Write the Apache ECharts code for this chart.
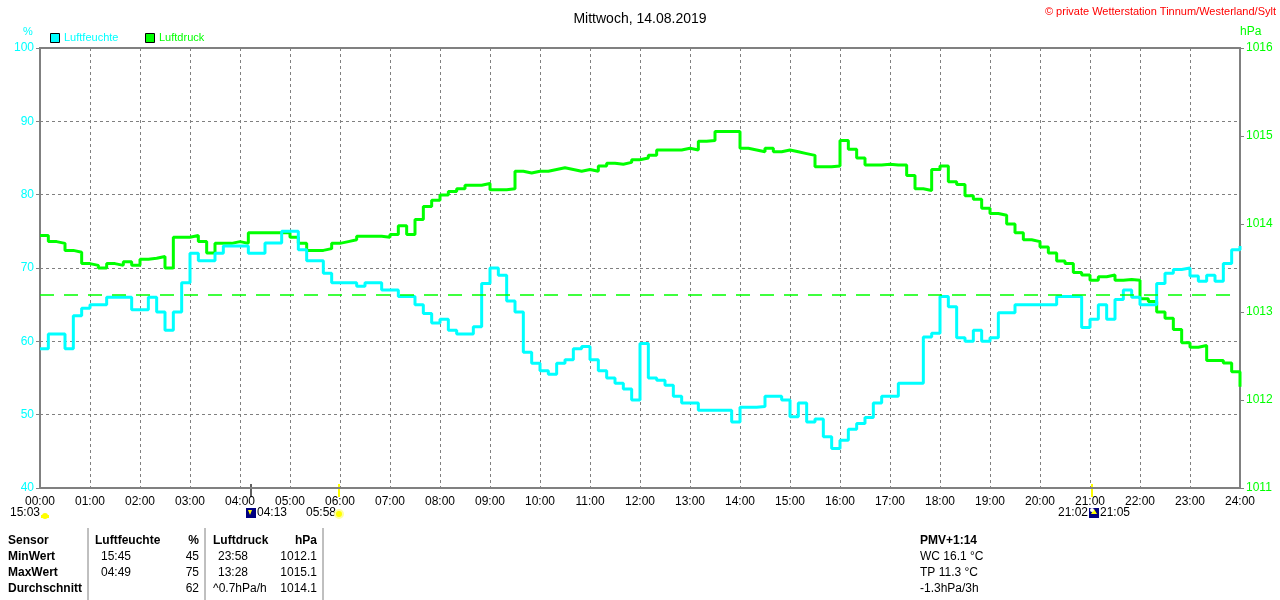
<!DOCTYPE html>
<html>
<head>
<meta charset="utf-8">
<script src="https://cdn.jsdelivr.net/npm/echarts@6/dist/echarts.min.js"></script>
<style>
  html, body { margin: 0; padding: 0; background: #fff; }
  #chart { width: 1280px; height: 600px; }
</style>
</head>
<body>
<div id="chart"></div>
<script>
// Mittwoch, 14.08.2019 - Luftfeuchte / Luftdruck, Werte alle 10 Minuten
var stepMinutes = 10;
var humidity = [
  59, 61, 61, 59, 63.5, 64.5, 65, 65, 66, 66, 66, 64.3,
  64.3, 66, 64, 61.5, 64, 68, 72, 71, 71, 72, 73, 73,
  73, 72, 72, 73.4, 73.4, 75, 75, 72.5, 71, 71, 69.3, 68,
  68, 68, 67.5, 68, 68, 67, 67, 66.1, 66.1, 65, 63.8, 62.5,
  63, 61.5, 61, 61, 62, 67.9, 70, 69, 65.5, 64, 58.5, 57,
  56, 55.5, 57, 57.5, 59, 59.3, 57.5, 56, 55, 54.3, 53.5, 52,
  59.7, 55, 54.7, 54, 52.5, 51.6, 51.6, 50.6, 50.6, 50.6, 50.6, 49,
  51, 51, 51.1, 52.5, 52.5, 52, 49.7, 51.6, 49, 49.4, 47, 45.4,
  46.5, 48, 48.8, 49.6, 51.6, 52.5, 52.5, 54.3, 54.3, 54.3, 60.6, 61.1,
  66.1, 64.7, 60.5, 60, 61.5, 60, 60.5, 63.9, 63.9, 65, 65, 65,
  65, 65, 66.1, 66.1, 66.1, 61.9, 63, 65, 63, 65.7, 67, 66,
  65, 65, 67.9, 69.3, 69.8, 70, 68.9, 68.2, 69, 68.2, 70.6, 72.5,
  73
];
var pressure = [
  1013.87, 1013.80, 1013.78, 1013.70, 1013.68, 1013.55, 1013.53, 1013.50, 1013.55, 1013.53, 1013.57, 1013.53,
  1013.60, 1013.61, 1013.63, 1013.50, 1013.85, 1013.85, 1013.87, 1013.80, 1013.67, 1013.78, 1013.78, 1013.80,
  1013.78, 1013.90, 1013.90, 1013.90, 1013.90, 1013.90, 1013.85, 1013.78, 1013.70, 1013.70, 1013.72, 1013.78,
  1013.80, 1013.82, 1013.86, 1013.86, 1013.86, 1013.85, 1013.88, 1013.98, 1013.88, 1014.05, 1014.20, 1014.27,
  1014.33, 1014.37, 1014.40, 1014.44, 1014.44, 1014.46, 1014.39, 1014.39, 1014.40, 1014.60, 1014.58, 1014.60,
  1014.60, 1014.62, 1014.64, 1014.62, 1014.60, 1014.62, 1014.60, 1014.66, 1014.69, 1014.68, 1014.70, 1014.73,
  1014.75, 1014.78, 1014.84, 1014.84, 1014.84, 1014.86, 1014.84, 1014.94, 1014.95, 1015.05, 1015.05, 1015.05,
  1014.86, 1014.84, 1014.82, 1014.86, 1014.82, 1014.84, 1014.82, 1014.80, 1014.78, 1014.65, 1014.65, 1014.66,
  1014.95, 1014.85, 1014.75, 1014.67, 1014.67, 1014.68, 1014.67, 1014.67, 1014.55, 1014.40, 1014.38, 1014.62,
  1014.66, 1014.48, 1014.45, 1014.32, 1014.28, 1014.18, 1014.12, 1014.10, 1014.00, 1013.90, 1013.82, 1013.80,
  1013.74, 1013.67, 1013.58, 1013.55, 1013.45, 1013.42, 1013.36, 1013.40, 1013.42, 1013.36, 1013.37, 1013.36,
  1013.15, 1013.12, 1013.00, 1012.93, 1012.80, 1012.65, 1012.60, 1012.62, 1012.45, 1012.45, 1012.42, 1012.32,
  1012.15
];
var normalPressure = 1013.2;
var hourLabels = ['00:00','01:00','02:00','03:00','04:00','05:00','06:00','07:00','08:00','09:00','10:00','11:00','12:00',
  '13:00','14:00','15:00','16:00','17:00','18:00','19:00','20:00','21:00','22:00','23:00','24:00'];

// Tabelle unten
var tableHead = ['Sensor', 'Luftfeuchte', '%', 'Luftdruck', 'hPa'];
var tableRows = [
  ['MinWert', '15:45', '45', '23:58', '1012.1'],
  ['MaxWert', '04:49', '75', '13:28', '1015.1'],
  ['Durchschnitt', '', '62', '^0.7hPa/h', '1014.1']
];
var extraInfo = ['PMV+1:14', 'WC 16.1 °C', 'TP 11.3 °C', '-1.3hPa/3h'];

var chart = echarts.init(document.getElementById('chart'));

function toPairs(arr) {
  return arr.map(function (v, i) { return [i * stepMinutes, v]; });
}

var font = 'Arial, "Liberation Sans", sans-serif';

var gfx = [];
// Legende
gfx.push({ type: 'rect', left: 50, top: 33, shape: { width: 9, height: 9 }, style: { fill: '#00ffff', stroke: '#000', lineWidth: 1 } });
gfx.push({ type: 'text', left: 64, top: 32, style: { text: 'Luftfeuchte', fill: '#00ffff', font: '11px ' + font } });
gfx.push({ type: 'rect', left: 145, top: 33, shape: { width: 9, height: 9 }, style: { fill: '#00ff00', stroke: '#000', lineWidth: 1 } });
gfx.push({ type: 'text', left: 159, top: 32, style: { text: 'Luftdruck', fill: '#00ff00', font: '11px ' + font } });
// Einheiten
gfx.push({ type: 'text', left: 23, top: 26, style: { text: '%', fill: '#00ffff', font: '11px ' + font } });
gfx.push({ type: 'text', left: 1240, top: 26, style: { text: 'hPa', fill: '#00ff00', font: '12px ' + font } });
// Copyright
gfx.push({ type: 'text', right: 4, top: 6, style: { text: '© private Wetterstation Tinnum/Westerland/Sylt', fill: '#ff0000', font: '11px ' + font } });

// Sonne / Mond Markierungen
gfx.push({ type: 'line', shape: { x1: 251, y1: 484, x2: 251, y2: 497 }, style: { stroke: '#606060', lineWidth: 2 } });
gfx.push({ type: 'line', shape: { x1: 339, y1: 484, x2: 339, y2: 497 }, style: { stroke: '#ffff00', lineWidth: 2 } });
gfx.push({ type: 'line', shape: { x1: 1092, y1: 484, x2: 1092, y2: 497 }, style: { stroke: '#ffff00', lineWidth: 2 } });
gfx.push({ type: 'text', left: 10, top: 507, style: { text: '15:03', fill: '#000', font: '12px ' + font } });
gfx.push({ type: 'circle', shape: { cx: 45, cy: 516, r: 3 }, style: { fill: '#ffff00' } });
gfx.push({ type: 'rect', shape: { x: 41, y: 515, width: 8, height: 3 }, style: { fill: '#ffff00' } });
gfx.push({ type: 'rect', shape: { x: 246, y: 508, width: 10, height: 10 }, style: { fill: '#000080' } });
gfx.push({ type: 'polygon', shape: { points: [[248, 510], [252, 510], [250, 515]] }, style: { fill: '#ffff00' } });
gfx.push({ type: 'text', left: 257, top: 507, style: { text: '04:13', fill: '#000', font: '12px ' + font } });
gfx.push({ type: 'text', left: 306, top: 507, style: { text: '05:58', fill: '#000', font: '12px ' + font } });
gfx.push({ type: 'circle', shape: { cx: 339, cy: 514, r: 4 }, style: { fill: '#ffff00', stroke: '#ffffa0', lineWidth: 2 } });
gfx.push({ type: 'text', left: 1058, top: 507, style: { text: '21:02', fill: '#000', font: '12px ' + font } });
gfx.push({ type: 'rect', shape: { x: 1089, y: 508, width: 10, height: 10 }, style: { fill: '#000080' } });
gfx.push({ type: 'polygon', shape: { points: [[1094, 509], [1091, 514], [1097, 514]] }, style: { fill: '#ffff00' } });
gfx.push({ type: 'circle', shape: { cx: 1092, cy: 510, r: 2 }, style: { fill: '#ffffff' } });
gfx.push({ type: 'text', left: 1100, top: 507, style: { text: '21:05', fill: '#000', font: '12px ' + font } });

// Tabelle
var rowY = [535, 551, 567, 583];
[88, 205, 323].forEach(function (x) {
  gfx.push({ type: 'line', shape: { x1: x, y1: 528, x2: x, y2: 600 }, style: { stroke: '#808080', lineWidth: 1 } });
});
var bold = 'bold 12px ' + font, norm = '12px ' + font;
gfx.push({ type: 'text', left: 8, top: rowY[0], style: { text: tableHead[0], fill: '#000', font: bold } });
gfx.push({ type: 'text', left: 95, top: rowY[0], style: { text: tableHead[1], fill: '#000', font: bold } });
gfx.push({ type: 'text', right: 1280 - 199, top: rowY[0], style: { text: tableHead[2], fill: '#000', font: bold } });
gfx.push({ type: 'text', left: 213, top: rowY[0], style: { text: tableHead[3], fill: '#000', font: bold } });
gfx.push({ type: 'text', right: 1280 - 317, top: rowY[0], style: { text: tableHead[4], fill: '#000', font: bold } });
tableRows.forEach(function (r, k) {
  var y = rowY[k + 1];
  gfx.push({ type: 'text', left: 8, top: y, style: { text: r[0], fill: '#000', font: bold } });
  gfx.push({ type: 'text', left: 101, top: y, style: { text: r[1], fill: '#000', font: norm } });
  gfx.push({ type: 'text', right: 1280 - 199, top: y, style: { text: r[2], fill: '#000', font: norm } });
  gfx.push({ type: 'text', left: r[3].charAt(0) === '^' ? 213 : 218, top: y, style: { text: r[3], fill: '#000', font: norm } });
  gfx.push({ type: 'text', right: 1280 - 317, top: y, style: { text: r[4], fill: '#000', font: norm } });
});
extraInfo.forEach(function (t, k) {
  gfx.push({ type: 'text', left: 920, top: rowY[k], style: { text: t, fill: '#000', font: k === 0 ? bold : norm } });
});

var option = {
  backgroundColor: '#ffffff',
  animation: false,
  title: {
    text: 'Mittwoch, 14.08.2019',
    left: 'center',
    top: 7,
    textStyle: { fontFamily: font, fontSize: 14, fontWeight: 'normal', color: '#000' }
  },
  grid: {
    left: 40, right: 40, top: 48, bottom: 112,
    show: true, borderColor: '#808080', borderWidth: 2, backgroundColor: '#fff'
  },
  xAxis: {
    type: 'value',
    min: 0, max: 1440, interval: 60,
    axisLine: { show: true, lineStyle: { color: '#808080', width: 2 } },
    axisTick: { show: false },
    axisLabel: {
      color: '#000', fontFamily: font, fontSize: 12, margin: 8,
      formatter: function (v) { return hourLabels[v / 60]; }
    },
    splitLine: { show: true, lineStyle: { color: '#808080', type: [3, 3], width: 1 } }
  },
  yAxis: [{
    type: 'value',
    min: 40, max: 100, interval: 10,
    axisLine: { show: true, lineStyle: { color: '#808080', width: 2 } },
    axisTick: { show: true, length: 4, lineStyle: { color: '#808080' } },
    axisLabel: { color: '#00ffff', fontFamily: font, fontSize: 12, margin: 6 },
    splitLine: { show: true, lineStyle: { color: '#808080', type: [3, 3], width: 1 } }
  }, {
    type: 'value',
    min: 1011, max: 1016, interval: 1,
    position: 'right',
    axisLine: { show: true, lineStyle: { color: '#808080', width: 2 } },
    axisTick: { show: true, length: 4, lineStyle: { color: '#808080' } },
    axisLabel: {
      color: '#00ff00', fontFamily: font, fontSize: 12, margin: 6,
      formatter: function (v) { return String(v); }
    },
    splitLine: { show: false }
  }],
  series: [{
    name: 'Luftdruck',
    type: 'line',
    yAxisIndex: 1,
    data: toPairs(pressure),
    step: 'end',
    showSymbol: false,
    lineStyle: { color: '#00ff00', width: 3 },
    markLine: {
      silent: true,
      symbol: 'none',
      label: { show: false },
      lineStyle: { color: '#00ff00', type: [14, 10], width: 1.5 },
      data: [{ yAxis: normalPressure }]
    },
    z: 2
  }, {
    name: 'Luftfeuchte',
    type: 'line',
    yAxisIndex: 0,
    data: toPairs(humidity),
    step: 'end',
    showSymbol: false,
    lineStyle: { color: '#00ffff', width: 3 },
    z: 3
  }],
  graphic: gfx
};
chart.setOption(option);
</script>
</body>
</html>
